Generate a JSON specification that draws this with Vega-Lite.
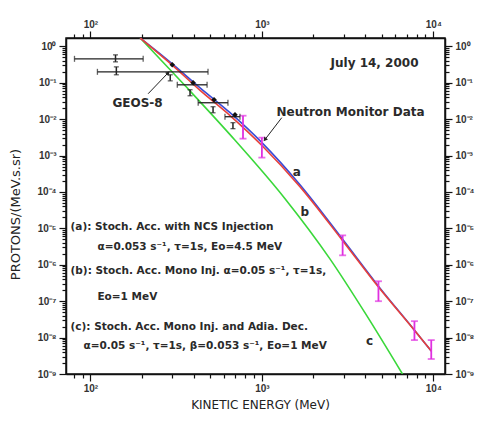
{
  "$schema": "https://vega.github.io/schema/vega-lite/v6.json",
  "width": 379,
  "height": 336,
  "autosize": {"type": "none"},
  "padding": {"left": 66, "top": 38, "right": 32, "bottom": 49},
  "background": "white",
  "config": {
    "view": {"stroke": "#111", "strokeWidth": 1.5},
    "axis": {"domainColor": "#111", "domainWidth": 1.5, "tickColor": "#111", "tickWidth": 1.2, "labelFont": "Liberation Sans", "labelFontSize": 10, "labelFontWeight": "bold", "labelColor": "#333", "titleFont": "DejaVu Sans", "titleFontWeight": "normal", "titleColor": "#222", "grid": false, "labelOverlap": false, "labelFlush": false},
    "text": {"font": "DejaVu Sans", "color": "#2a2a2a", "fontWeight": "bold"}
  },
  "datasets": {
    "curves": [
      {"model": "c", "E": 195, "F": 1.7},
      {"model": "c", "E": 357, "F": 0.0828},
      {"model": "c", "E": 652, "F": 0.00376},
      {"model": "c", "E": 1361, "F": 6.64e-5},
      {"model": "c", "E": 2483, "F": 1.5e-6},
      {"model": "c", "E": 4074, "F": 4.13e-8},
      {"model": "c", "E": 6607, "F": 1.0e-9},
      {"model": "a", "E": 195, "F": 1.7},
      {"model": "a", "E": 300, "F": 0.332},
      {"model": "a", "E": 436, "F": 0.073},
      {"model": "a", "E": 652, "F": 0.01507},
      {"model": "a", "E": 1000, "F": 0.00227},
      {"model": "a", "E": 1663, "F": 1.6e-4},
      {"model": "a", "E": 2958, "F": 5.0e-6},
      {"model": "a", "E": 4786, "F": 2.58e-7},
      {"model": "a", "E": 7762, "F": 1.6e-8},
      {"model": "a", "E": 9727, "F": 4.26e-9},
      {"model": "b", "E": 195, "F": 1.7},
      {"model": "b", "E": 300, "F": 0.305},
      {"model": "b", "E": 436, "F": 0.062},
      {"model": "b", "E": 652, "F": 0.0126},
      {"model": "b", "E": 1000, "F": 0.0019},
      {"model": "b", "E": 1663, "F": 1.42e-4},
      {"model": "b", "E": 2958, "F": 4.6e-6},
      {"model": "b", "E": 4786, "F": 2.45e-7},
      {"model": "b", "E": 7762, "F": 1.58e-8},
      {"model": "b", "E": 9727, "F": 4.26e-9}
    ],
    "geosBars": [
      {"Elo": 80.7, "Ehi": 203, "F": 0.455},
      {"Elo": 109.8, "Ehi": 485, "F": 0.2},
      {"Elo": 321, "Ehi": 479, "F": 0.088},
      {"Elo": 425, "Ehi": 634, "F": 0.0283},
      {"Elo": 609, "Ehi": 745, "F": 0.0117}
    ],
    "geosPoints": [
      {"E": 300, "F": 0.311},
      {"E": 397, "F": 0.1},
      {"E": 526, "F": 0.0342},
      {"E": 697, "F": 0.0133}
    ],
    "geosGlyphs": [
      {"E": 140, "Flo": 0.376, "Fhi": 0.585},
      {"E": 141.6, "Flo": 0.166, "Fhi": 0.274},
      {"E": 292, "Flo": 0.113, "Fhi": 0.166},
      {"E": 381, "Flo": 0.044, "Fhi": 0.0644},
      {"E": 519, "Flo": 0.015, "Fhi": 0.022},
      {"E": 678, "Flo": 0.00549, "Fhi": 0.00803}
    ],
    "neutron": [
      {"E": 776, "Flo": 0.00292, "Fhi": 0.01247},
      {"E": 1000, "Flo": 8.81e-4, "Fhi": 0.00311},
      {"E": 2958, "Flo": 1.82e-6, "Fhi": 6.43e-6},
      {"E": 4786, "Flo": 1.0e-7, "Fhi": 3.53e-7},
      {"E": 7762, "Flo": 8.55e-9, "Fhi": 2.83e-8},
      {"E": 9727, "Flo": 2.58e-9, "Fhi": 8.55e-9}
    ],
    "legendText": [
      {"E": 76.5, "F": 1.06e-5, "t": "(a): Stoch. Acc. with NCS Injection"},
      {"E": 109.8, "F": 3.01e-6, "t": "α=0.053 s⁻¹, τ=1s, Eo=4.5 MeV"},
      {"E": 76.5, "F": 6.63e-7, "t": "(b): Stoch. Acc. Mono Inj. α=0.05 s⁻¹, τ=1s,"},
      {"E": 109.8, "F": 1.29e-7, "t": "Eo=1 MeV"},
      {"E": 76.5, "F": 1.94e-8, "t": "(c): Stoch. Acc. Mono Inj. and Adia. Dec."},
      {"E": 91.0, "F": 5.85e-9, "t": "α=0.05 s⁻¹, τ=1s, β=0.053 s⁻¹, Eo=1 MeV"}
    ],
    "annotCenter": [
      {"E": 4540, "F": 0.353, "t": "July 14, 2000"},
      {"E": 3289, "F": 0.016, "t": "Neutron Monitor Data"}
    ],
    "annot": [
      {"E": 134.3, "F": 0.0283, "t": "GEOS-8"}
    ],
    "letters": [
      {"E": 1596, "F": 3.65e-4, "t": "a"},
      {"E": 1778, "F": 2.74e-5, "t": "b"},
      {"E": 4246, "F": 8.0e-9, "t": "c"}
    ],
    "arrows": [
      {"E": 1306, "F": 0.011, "E2": 1041, "F2": 0.00274, "ang": 218},
      {"E": 217, "F": 0.05, "E2": 284, "F2": 0.188, "ang": 44}
    ]
  },
  "resolve": {"axis": {"x": "independent", "y": "independent"}},
  "layer": [
    {
      "data": {"name": "curves"},
      "mark": {"type": "line", "strokeWidth": 1.6, "clip": true, "interpolate": "monotone"},
      "encoding": {
        "x": {"field": "E", "type": "quantitative", "scale": {"type": "log", "domain": [72, 11700], "nice": false},
          "axis": {"orient": "bottom", "title": "KINETIC ENERGY (MeV)", "titleFontSize": 12, "titleX": 194, "titleY": 30, "titleBaseline": "middle", "titleAlign": "center", "labelPadding": 2,
            "values": [80, 90, 100, 200, 300, 400, 500, 600, 700, 800, 900, 1000, 2000, 3000, 4000, 5000, 6000, 7000, 8000, 9000, 10000],
            "labelExpr": "abs(log(datum.value)/LN10 - round(log(datum.value)/LN10)) < 0.01 ? '10' + (round(log(datum.value)/LN10) < 0 ? '⁻' : '') + ['⁰','¹','²','³','⁴','⁵','⁶','⁷','⁸','⁹'][abs(round(log(datum.value)/LN10))] : ''",
            "tickSize": {"condition": {"test": "abs(log(datum.value)/LN10 - round(log(datum.value)/LN10)) < 0.01", "value": 7}, "value": 4}}},
        "y": {"field": "F", "type": "quantitative", "scale": {"type": "log", "domain": [1e-9, 1.7], "nice": false},
          "axis": {"orient": "left", "title": "PROTONS/(MeV.s.sr)", "titleFontSize": 13, "titleX": -51, "titleY": 176, "titleBaseline": "middle", "titleAlign": "center", "titleAngle": -90, "labelPadding": 3,
            "values": [1e-9, 2e-9, 3e-9, 4e-9, 5e-9, 6e-9, 7e-9, 8e-9, 9e-9, 1e-8, 2e-8, 3e-8, 4e-8, 5e-8, 6e-8, 7e-8, 8e-8, 9e-8, 1e-7, 2e-7, 3e-7, 4e-7, 5e-7, 6e-7, 7e-7, 8e-7, 9e-7, 1e-6, 2e-6, 3e-6, 4e-6, 5e-6, 6e-6, 7e-6, 8e-6, 9e-6, 1e-5, 2e-5, 3e-5, 4e-5, 5e-5, 6e-5, 7e-5, 8e-5, 9e-5, 1e-4, 2e-4, 3e-4, 4e-4, 5e-4, 6e-4, 7e-4, 8e-4, 9e-4, 0.001, 0.002, 0.003, 0.004, 0.005, 0.006, 0.007, 0.008, 0.009, 0.01, 0.02, 0.03, 0.04, 0.05, 0.06, 0.07, 0.08, 0.09, 0.1, 0.2, 0.3, 0.4, 0.5, 0.6, 0.7, 0.8, 0.9, 1],
            "labelExpr": "abs(log(datum.value)/LN10 - round(log(datum.value)/LN10)) < 0.01 ? '10' + (round(log(datum.value)/LN10) < 0 ? '⁻' : '') + ['⁰','¹','²','³','⁴','⁵','⁶','⁷','⁸','⁹'][abs(round(log(datum.value)/LN10))] : ''",
            "tickSize": {"condition": {"test": "abs(log(datum.value)/LN10 - round(log(datum.value)/LN10)) < 0.01", "value": 7}, "value": 4}}},
        "color": {"field": "model", "type": "nominal", "scale": {"domain": ["a", "b", "c"], "range": ["#3a4bd8", "#e8403a", "#3ad83a"]}, "legend": null},
        "order": {"field": "E", "type": "quantitative"}
      }
    },
    {
      "data": {"name": "neutron"},
      "mark": {"type": "rule", "color": "#e030e0", "strokeWidth": 1.8},
      "encoding": {
        "x": {"field": "E", "type": "quantitative", "scale": {"type": "log", "domain": [72, 11700], "nice": false},
          "axis": {"orient": "top", "title": null, "labelPadding": 2,
            "values": [80, 90, 100, 200, 300, 400, 500, 600, 700, 800, 900, 1000, 2000, 3000, 4000, 5000, 6000, 7000, 8000, 9000, 10000],
            "labelExpr": "abs(log(datum.value)/LN10 - round(log(datum.value)/LN10)) < 0.01 ? '10' + (round(log(datum.value)/LN10) < 0 ? '⁻' : '') + ['⁰','¹','²','³','⁴','⁵','⁶','⁷','⁸','⁹'][abs(round(log(datum.value)/LN10))] : ''",
            "tickSize": {"condition": {"test": "abs(log(datum.value)/LN10 - round(log(datum.value)/LN10)) < 0.01", "value": 7}, "value": 4}}},
        "y": {"field": "Flo", "type": "quantitative", "scale": {"type": "log", "domain": [1e-9, 1.7], "nice": false},
          "axis": {"orient": "right", "title": null, "labelPadding": 3,
            "values": [1e-9, 2e-9, 3e-9, 4e-9, 5e-9, 6e-9, 7e-9, 8e-9, 9e-9, 1e-8, 2e-8, 3e-8, 4e-8, 5e-8, 6e-8, 7e-8, 8e-8, 9e-8, 1e-7, 2e-7, 3e-7, 4e-7, 5e-7, 6e-7, 7e-7, 8e-7, 9e-7, 1e-6, 2e-6, 3e-6, 4e-6, 5e-6, 6e-6, 7e-6, 8e-6, 9e-6, 1e-5, 2e-5, 3e-5, 4e-5, 5e-5, 6e-5, 7e-5, 8e-5, 9e-5, 1e-4, 2e-4, 3e-4, 4e-4, 5e-4, 6e-4, 7e-4, 8e-4, 9e-4, 0.001, 0.002, 0.003, 0.004, 0.005, 0.006, 0.007, 0.008, 0.009, 0.01, 0.02, 0.03, 0.04, 0.05, 0.06, 0.07, 0.08, 0.09, 0.1, 0.2, 0.3, 0.4, 0.5, 0.6, 0.7, 0.8, 0.9, 1],
            "labelExpr": "abs(log(datum.value)/LN10 - round(log(datum.value)/LN10)) < 0.01 ? '10' + (round(log(datum.value)/LN10) < 0 ? '⁻' : '') + ['⁰','¹','²','³','⁴','⁵','⁶','⁷','⁸','⁹'][abs(round(log(datum.value)/LN10))] : ''",
            "tickSize": {"condition": {"test": "abs(log(datum.value)/LN10 - round(log(datum.value)/LN10)) < 0.01", "value": 7}, "value": 4}}},
        "y2": {"field": "Fhi"}
      }
    },
    {
      "data": {"name": "neutron"},
      "mark": {"type": "tick", "orient": "horizontal", "color": "#e030e0", "size": 7, "thickness": 1.8},
      "encoding": {
        "x": {"field": "E", "type": "quantitative", "scale": {"type": "log", "domain": [72, 11700], "nice": false}, "axis": null},
        "y": {"field": "Fhi", "type": "quantitative", "scale": {"type": "log", "domain": [1e-9, 1.7], "nice": false}, "axis": null}
      }
    },
    {
      "data": {"name": "neutron"},
      "mark": {"type": "tick", "orient": "horizontal", "color": "#e030e0", "size": 7, "thickness": 1.8},
      "encoding": {
        "x": {"field": "E", "type": "quantitative", "scale": {"type": "log", "domain": [72, 11700], "nice": false}, "axis": null},
        "y": {"field": "Flo", "type": "quantitative", "scale": {"type": "log", "domain": [1e-9, 1.7], "nice": false}, "axis": null}
      }
    },
    {
      "data": {"name": "geosBars"},
      "mark": {"type": "rule", "color": "#222", "strokeWidth": 1.3},
      "encoding": {
        "x": {"field": "Elo", "type": "quantitative", "scale": {"type": "log", "domain": [72, 11700], "nice": false}, "axis": null},
        "x2": {"field": "Ehi"},
        "y": {"field": "F", "type": "quantitative", "scale": {"type": "log", "domain": [1e-9, 1.7], "nice": false}, "axis": null}
      }
    },
    {
      "data": {"name": "geosBars"},
      "mark": {"type": "tick", "orient": "vertical", "color": "#222", "size": 6, "thickness": 1.3},
      "encoding": {
        "x": {"field": "Elo", "type": "quantitative", "scale": {"type": "log", "domain": [72, 11700], "nice": false}, "axis": null},
        "y": {"field": "F", "type": "quantitative", "scale": {"type": "log", "domain": [1e-9, 1.7], "nice": false}, "axis": null}
      }
    },
    {
      "data": {"name": "geosBars"},
      "mark": {"type": "tick", "orient": "vertical", "color": "#222", "size": 6, "thickness": 1.3},
      "encoding": {
        "x": {"field": "Ehi", "type": "quantitative", "scale": {"type": "log", "domain": [72, 11700], "nice": false}, "axis": null},
        "y": {"field": "F", "type": "quantitative", "scale": {"type": "log", "domain": [1e-9, 1.7], "nice": false}, "axis": null}
      }
    },
    {
      "data": {"name": "geosGlyphs"},
      "mark": {"type": "rule", "color": "#222", "strokeWidth": 1.5},
      "encoding": {
        "x": {"field": "E", "type": "quantitative", "scale": {"type": "log", "domain": [72, 11700], "nice": false}, "axis": null},
        "y": {"field": "Flo", "type": "quantitative", "scale": {"type": "log", "domain": [1e-9, 1.7], "nice": false}, "axis": null},
        "y2": {"field": "Fhi"}
      }
    },
    {
      "data": {"name": "geosGlyphs"},
      "mark": {"type": "tick", "orient": "horizontal", "color": "#222", "size": 5, "thickness": 1.3},
      "encoding": {
        "x": {"field": "E", "type": "quantitative", "scale": {"type": "log", "domain": [72, 11700], "nice": false}, "axis": null},
        "y": {"field": "Flo", "type": "quantitative", "scale": {"type": "log", "domain": [1e-9, 1.7], "nice": false}, "axis": null}
      }
    },
    {
      "data": {"name": "geosGlyphs"},
      "mark": {"type": "tick", "orient": "horizontal", "color": "#222", "size": 5, "thickness": 1.3},
      "encoding": {
        "x": {"field": "E", "type": "quantitative", "scale": {"type": "log", "domain": [72, 11700], "nice": false}, "axis": null},
        "y": {"field": "Fhi", "type": "quantitative", "scale": {"type": "log", "domain": [1e-9, 1.7], "nice": false}, "axis": null}
      }
    },
    {
      "data": {"name": "geosPoints"},
      "mark": {"type": "point", "shape": "diamond", "filled": true, "color": "#111", "size": 30, "opacity": 1},
      "encoding": {
        "x": {"field": "E", "type": "quantitative", "scale": {"type": "log", "domain": [72, 11700], "nice": false}, "axis": null},
        "y": {"field": "F", "type": "quantitative", "scale": {"type": "log", "domain": [1e-9, 1.7], "nice": false}, "axis": null}
      }
    },
    {
      "data": {"name": "arrows"},
      "mark": {"type": "rule", "color": "#222", "strokeWidth": 1},
      "encoding": {
        "x": {"field": "E", "type": "quantitative", "scale": {"type": "log", "domain": [72, 11700], "nice": false}, "axis": null},
        "x2": {"field": "E2"},
        "y": {"field": "F", "type": "quantitative", "scale": {"type": "log", "domain": [1e-9, 1.7], "nice": false}, "axis": null},
        "y2": {"field": "F2"}
      }
    },
    {
      "data": {"name": "arrows"},
      "mark": {"type": "point", "shape": "triangle-up", "filled": true, "color": "#222", "size": 22, "opacity": 1},
      "encoding": {
        "x": {"field": "E2", "type": "quantitative", "scale": {"type": "log", "domain": [72, 11700], "nice": false}, "axis": null},
        "y": {"field": "F2", "type": "quantitative", "scale": {"type": "log", "domain": [1e-9, 1.7], "nice": false}, "axis": null},
        "angle": {"field": "ang", "type": "quantitative", "scale": null}
      }
    },
    {
      "data": {"name": "legendText"},
      "mark": {"type": "text", "align": "left", "baseline": "middle", "fontSize": 10.5},
      "encoding": {
        "x": {"field": "E", "type": "quantitative", "scale": {"type": "log", "domain": [72, 11700], "nice": false}, "axis": null},
        "y": {"field": "F", "type": "quantitative", "scale": {"type": "log", "domain": [1e-9, 1.7], "nice": false}, "axis": null},
        "text": {"field": "t"}
      }
    },
    {
      "data": {"name": "annotCenter"},
      "mark": {"type": "text", "align": "center", "baseline": "middle", "fontSize": 12},
      "encoding": {
        "x": {"field": "E", "type": "quantitative", "scale": {"type": "log", "domain": [72, 11700], "nice": false}, "axis": null},
        "y": {"field": "F", "type": "quantitative", "scale": {"type": "log", "domain": [1e-9, 1.7], "nice": false}, "axis": null},
        "text": {"field": "t"}
      }
    },
    {
      "data": {"name": "annot"},
      "mark": {"type": "text", "align": "left", "baseline": "middle", "fontSize": 12},
      "encoding": {
        "x": {"field": "E", "type": "quantitative", "scale": {"type": "log", "domain": [72, 11700], "nice": false}, "axis": null},
        "y": {"field": "F", "type": "quantitative", "scale": {"type": "log", "domain": [1e-9, 1.7], "nice": false}, "axis": null},
        "text": {"field": "t"}
      }
    },
    {
      "data": {"name": "letters"},
      "mark": {"type": "text", "align": "center", "baseline": "middle", "fontSize": 12},
      "encoding": {
        "x": {"field": "E", "type": "quantitative", "scale": {"type": "log", "domain": [72, 11700], "nice": false}, "axis": null},
        "y": {"field": "F", "type": "quantitative", "scale": {"type": "log", "domain": [1e-9, 1.7], "nice": false}, "axis": null},
        "text": {"field": "t"}
      }
    }
  ]
}
